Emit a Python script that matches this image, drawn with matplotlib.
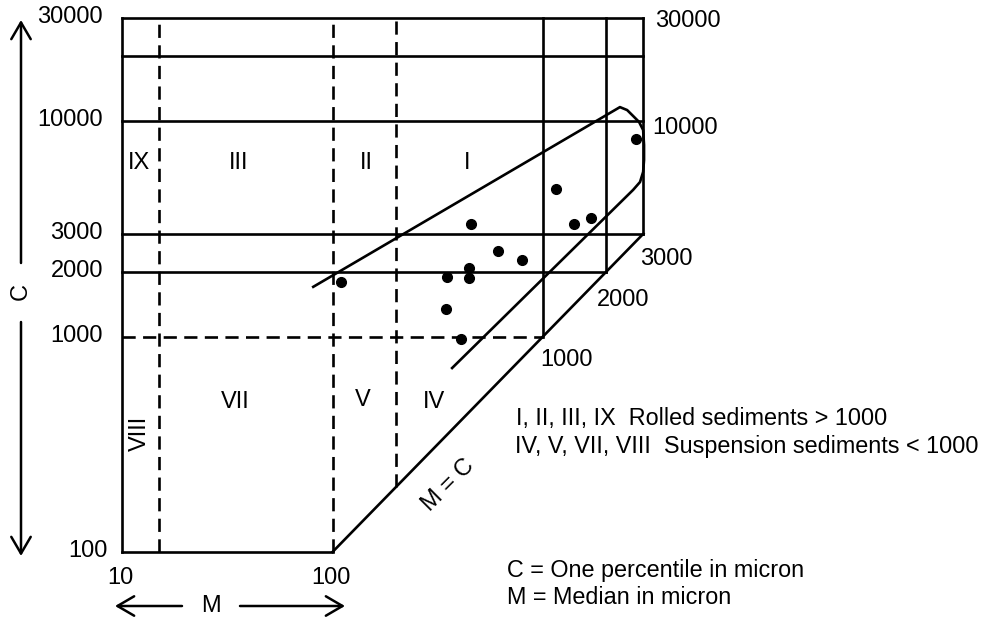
"""CM diagram (Passega): C = one percentile vs M = median, both in micron."""
import matplotlib
matplotlib.use("Agg")
import matplotlib.pyplot as plt
from matplotlib.patches import FancyArrowPatch

plt.rcParams["font.family"] = ["Liberation Sans", "DejaVu Sans"]

# --- data (micron) ---
left_ticks = [30000, 10000, 3000, 2000, 1000, 100]
bottom_ticks = [10, 100]

# horizontal solid lines: C level and the M where each one stops
h_solid_c = [30000, 20000, 10000, 3000, 2000]
h_solid_mend = [3000, 3000, 3000, 3000, 2000]
h_dash_c = [1000]
h_dash_mend = [1000]

# vertical lines (start on M = C line or on C = 100)
v_solid_m = [1000, 2000, 3000]
v_dash_m = [15, 100, 200]

# envelope enclosing the samples
env_m = [81, 2320, 2510, 2680, 2860, 2990, 3020, 3020, 2990, 2890, 2680, 370]
env_c = [1700, 11600, 11240, 10550, 9900, 9080, 7740, 6590, 5800, 5210, 4790, 714]

# sample points
sample_m = [110, 455, 610, 795, 445, 350, 445, 345, 410, 1155, 1400, 1690, 2770]
sample_c = [1790, 3330, 2490, 2270, 2080, 1890, 1870, 1340, 975, 4830, 3330, 3550, 8240]

# --- layout ---
W, H = 992, 619
X10, XDEC = 122, 210.5      # M = 10 at x=122 px, px per decade
Y100, YDEC = 552, 215.5     # C = 100 at y=552 px (from top), px per decade

fig = plt.figure(figsize=(W / 100, H / 100), dpi=100)
ax = fig.add_axes([0, 0, 1, 1])
ax.set_xscale("log")
ax.set_yscale("log")
ax.set_xlim(10 ** (1 - X10 / XDEC), 10 ** (1 + (W - X10) / XDEC))
ax.set_ylim(10 ** (2 - (H - Y100) / YDEC), 10 ** (2 + Y100 / YDEC))
ax.axis("off")


def px(x, y):
    return x / W, 1 - y / H


LW = 1.9
DASH = (0, (5, 2.8))
k = dict(color="black", lw=LW, solid_capstyle="projecting")

ax.plot([10, 10], [100, 30000], **k)
ax.plot([10, 100], [100, 100], **k)
ax.plot([100, 3000], [100, 3000], **k)                  # M = C
for c, m_end in zip(h_solid_c, h_solid_mend):
    ax.plot([10, m_end], [c, c], **k)
for c, m_end in zip(h_dash_c, h_dash_mend):
    ax.plot([10, m_end], [c, c], ls=DASH, **k)
for m in v_solid_m:
    ax.plot([m, m], [m, 30000], **k)
for m in v_dash_m:
    ax.plot([m, m], [max(m, 100), 30000], ls=DASH, **k)

ax.plot(env_m, env_c, color="black", lw=LW, solid_joinstyle="round")
ax.plot(sample_m, sample_c, "o", ms=7, color="black")

FS = 17
# left tick labels
for v in left_ticks:
    ax.annotate(str(v), (10, v), xytext=(-14 if v == 100 else -19, 1),
                textcoords="offset pixels", ha="right", va="center", fontsize=FS)
# bottom tick labels
for v in bottom_ticks:
    ax.annotate(str(v), (v, 100), xytext=(-2, -26), textcoords="offset pixels",
                ha="center", va="center", fontsize=FS)

# right-hand labels
for s, x, y in [("30000", 655, 21), ("10000", 652, 128), ("3000", 640, 259),
                ("2000", 597, 300), ("1000", 540, 360)]:
    fig.text(*px(x, y), s, ha="left", va="center", fontsize=FS)

# region numerals
for s, x, y in [("IX", 139, 163), ("III", 239, 163), ("II", 366, 163), ("I", 467, 163),
                ("VII", 235, 402), ("V", 363, 400), ("IV", 434, 402)]:
    fig.text(*px(x, y), s, ha="center", va="center", fontsize=FS)
fig.text(*px(140, 433), "VIII", ha="center", va="center", fontsize=FS, rotation=90)
fig.text(*px(448, 485), "M = C", ha="center", va="center", fontsize=FS, rotation=45)

# legend texts
LFS = 16.8
fig.text(*px(516, 418), "I, II, III, IX  Rolled sediments > 1000",
         ha="left", va="center", fontsize=LFS)
fig.text(*px(515, 447), "IV, V, VII, VIII  Suspension sediments < 1000",
         ha="left", va="center", fontsize=LFS)
fig.text(*px(507, 570), "C = One percentile in micron", ha="left", va="center", fontsize=LFS)
fig.text(*px(507, 598), "M = Median in micron", ha="left", va="center", fontsize=LFS)

# axis names with arrows
fig.text(*px(21, 292), "C", ha="center", va="center", fontsize=FS, rotation=90)
fig.text(*px(211, 606), "M", ha="center", va="center", fontsize=FS)
for (x0, y0), (x1, y1) in [((21, 263), (21, 20)), ((21, 322), (21, 556)),
                           ((182, 606), (115, 606)), ((240, 606), (345, 606))]:
    fig.add_artist(FancyArrowPatch(
        px(x0, y0), px(x1, y1), transform=fig.transFigure,
        arrowstyle="->,head_length=0.6,head_width=0.35", mutation_scale=20,
        color="black", lw=1.8, shrinkA=0, shrinkB=0))

fig.savefig("out.png", dpi=100)
